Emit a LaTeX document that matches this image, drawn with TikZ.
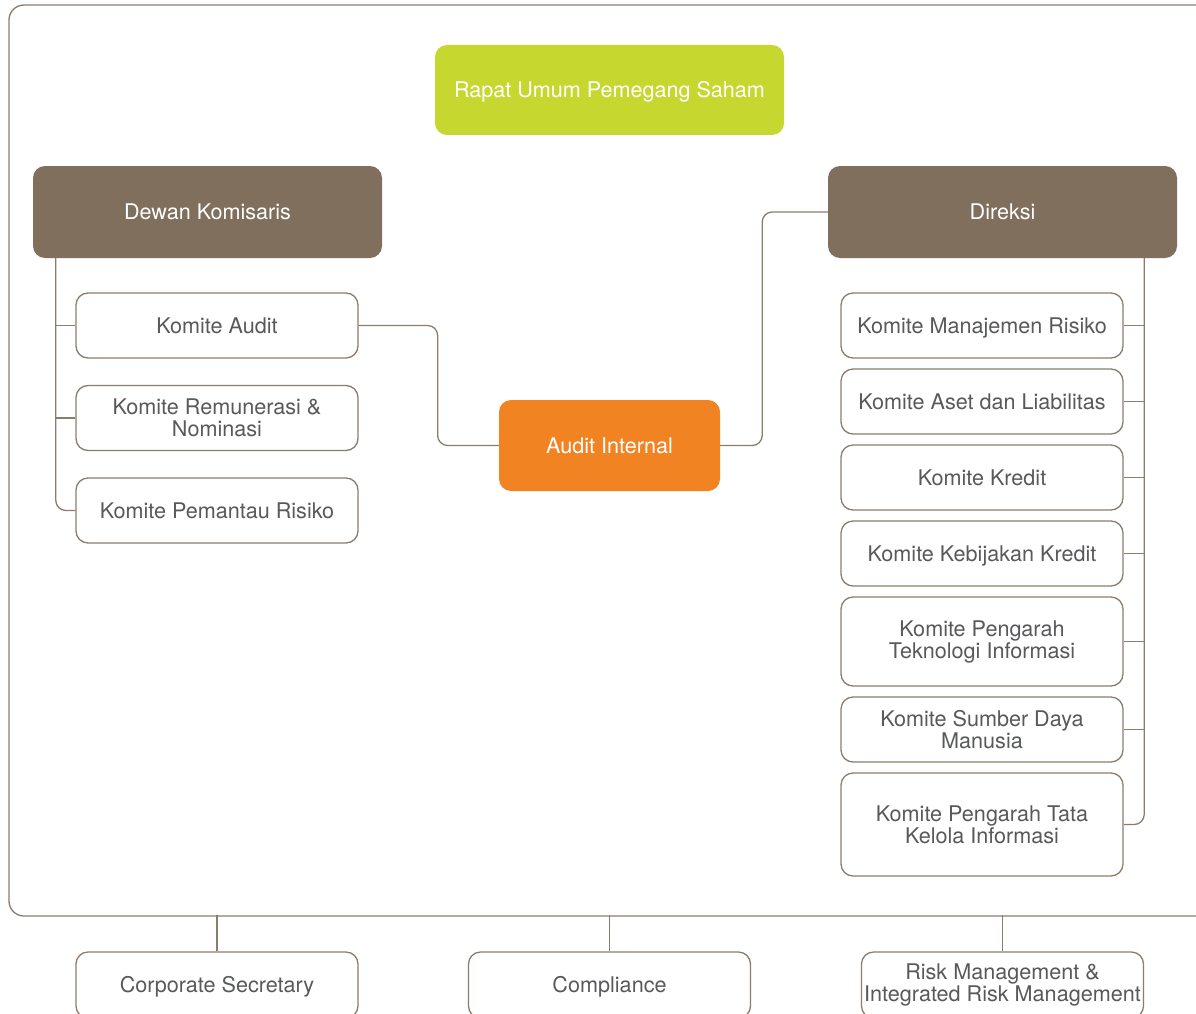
\documentclass[tikz,border=0pt]{standalone}
\usepackage{fontspec}
\setmainfont{TeX Gyre Heros}
\definecolor{linebrown}{HTML}{8C7D6B}
\definecolor{boxbrown}{HTML}{7F6F5C}
\definecolor{rupsgreen}{HTML}{C6D72F}
\definecolor{auditorange}{HTML}{F28322}
\definecolor{textgrey}{HTML}{58595B}

\begin{document}
\begin{tikzpicture}[x=1pt,y=-1pt,
  komite/.style={draw=linebrown,line width=1.3pt,rounded corners=12pt,fill=white,text=textgrey,align=center,minimum width=282pt,minimum height=65pt,inner sep=0pt,font=\fontsize{21.6}{22}\selectfont},
  organ/.style={rounded corners=12pt,text=white,align=center,minimum width=349pt,minimum height=92pt,inner sep=0pt,font=\fontsize{21.6}{22}\selectfont},
  oneline/.style={text height=18pt,text depth=2.5pt},
  link/.style={draw=linebrown,line width=1.3pt,rounded corners=10pt}]
\clip (0,0) rectangle (1196,1014);
\draw[link,rounded corners=15pt] (9,5) rectangle (1215,916);
\node[organ,oneline,fill=rupsgreen,minimum height=90pt] (rups) at (609.5,90) {Rapat Umum Pemegang Saham};
\node[organ,oneline,fill=boxbrown] (dk) at (207.5,212) {Dewan Komisaris};
\node[organ,oneline,fill=boxbrown] (dir) at (1002.5,212) {Direksi};
\node[komite,oneline] (kau) at (217,325.5) {Komite Audit};
\node[komite] (krn) at (217,418) {Komite Remunerasi \&\\Nominasi};
\node[komite,oneline] (kpr) at (217,510.5) {Komite Pemantau Risiko};
\node[organ,oneline,fill=auditorange,minimum width=221pt,minimum height=91pt] (ai) at (609.5,445.5) {Audit Internal};
\node[komite,oneline] (kmr) at (982,325.5) {Komite Manajemen Risiko};
\node[komite,oneline] (kal) at (982,401.5) {Komite Aset dan Liabilitas};
\node[komite,oneline] (kk) at (982,477.5) {Komite Kredit};
\node[komite,oneline] (kkk) at (982,553.5) {Komite Kebijakan Kredit};
\node[komite,minimum height=89pt] (kpti) at (982,641.5) {Komite Pengarah\\Teknologi Informasi};
\node[komite] (ksdm) at (982,729.5) {Komite Sumber Daya\\Manusia};
\node[komite,minimum height=103pt] (kptk) at (982,824.5) {Komite Pengarah Tata\\Kelola Informasi};
\node[komite,oneline,minimum height=66pt] (cs) at (217,985) {Corporate Secretary};
\node[komite,oneline,minimum height=66pt] (comp) at (609.5,985) {Compliance};
\node[komite,minimum height=66pt] (rm) at (1002.5,985) {Risk Management \&\\Integrated Risk Management};
\draw[link] ([xshift=23pt]dk.south west) |- (kpr.west);
\draw[link] (kau.west) -- ++(-20,0);
\draw[link] (krn.west) -- ++(-20,0);
\draw[link] (kau.east) -- ++(79,0) |- (ai.west);
\draw[link] (ai.east) -- ++(42,0) |- (dir.west);
\draw[link] ([xshift=-33pt]dir.south east) |- (kptk.east);
\foreach \k in {kmr,kal,kk,kkk,kpti,ksdm}
  \draw[link] (\k.east) -- ++(21,0);
\draw[link] (cs.north) -- ++(0,-36);
\draw[link] (comp.north) -- ++(0,-36);
\draw[link] (rm.north) -- ++(0,-36);
\end{tikzpicture}
\end{document}
